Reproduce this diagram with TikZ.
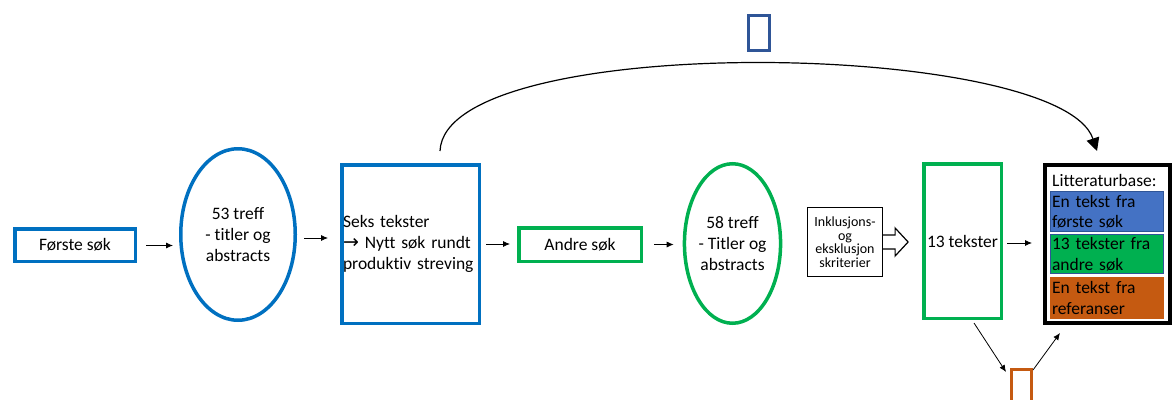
\documentclass[tikz,border=0pt]{standalone}
\usepackage{fontspec}
\setmainfont{Carlito}[Ligatures=NoCommon]
\newfontfamily\arrowfont{DejaVu Sans}
\usetikzlibrary{arrows.meta,shapes.geometric}
\definecolor{firstblue}{HTML}{0070C0}
\definecolor{secondgreen}{HTML}{00B050}
\definecolor{darkblue}{HTML}{2F5597}
\definecolor{midblue}{HTML}{4472C4}
\definecolor{rust}{HTML}{C55A11}
\tikzset{
  txt/.style={font=\fontsize{17.5}{21}\selectfont},
  bluebox/.style={draw=firstblue, line width=3.5pt, inner sep=2pt, txt},
  greenbox/.style={draw=secondgreen, line width=3.5pt, inner sep=2pt, txt},
  blueoval/.style={ellipse, draw=firstblue, line width=3.5pt, inner sep=0pt, align=center, txt},
  greenoval/.style={ellipse, draw=secondgreen, line width=3.5pt, inner sep=0pt, align=center, txt},
  arr/.style={-{Latex[length=7pt,width=6pt]}, line width=0.8pt},
  glyphbox/.style={draw, line width=3pt, inner sep=0pt},
  baseitem/.style={minimum width=113pt, text width=110pt, inner sep=1.5pt, align=left,
    font=\fontsize{17.5}{20.5}\selectfont, anchor=center},
}
\begin{document}
\begin{tikzpicture}[x=1pt,y=-1pt]
\useasboundingbox (0,0) rectangle (1174,399);
\clip (0,0) rectangle (1174,399);

% first search chain
\node[bluebox, minimum width=120.5pt, minimum height=32.5pt] (forste) at (75,245) {Første søk};
\node[blueoval, minimum width=114.5pt, minimum height=171.5pt] (treff53) at (238,234.5)
  {53 treff\\- titler og\\abstracts};
\node[bluebox, minimum width=137.5pt, minimum height=158.5pt, text width=135pt, inner sep=1pt, align=left]
  (seks) at (410.5,244)
  {Seks tekster\\{\arrowfont\fontsize{19}{21}\selectfont →} Nytt søk rundt\\produktiv streving};

% second search chain
\node[greenbox, minimum width=122.5pt, minimum height=33.5pt] (andre) at (580,244.5) {Andre søk};
\node[greenoval, minimum width=87.5pt, minimum height=159.5pt] (treff58) at (732.5,243.5)
  {58 treff\\- Titler og\\abstracts};
\node[draw, line width=1.2pt, minimum width=75pt, minimum height=69pt, inner sep=1pt,
  align=center, font=\fontsize{14}{13.5}\selectfont] (inkl) at (845,242)
  {Inklusjons-\\og\\eksklusjon\\skriterier};
\node[greenbox, minimum width=77.5pt, minimum height=154.5pt] (tekster13) at (962.5,241) {13 tekster};

% literature base
\node[draw, line width=4pt, minimum width=125pt, minimum height=158pt, inner sep=0pt]
  (litt) at (1107.5,244) {};
\node[anchor=west, inner sep=0pt, font=\fontsize{17.5}{20.5}\selectfont] (littlabel) at (1052,180)
  {Litteraturbase:};
\node[baseitem, fill=midblue, draw=darkblue, line width=1pt, minimum height=40pt] (b1) at (1107,211.5)
  {En tekst fra\\første søk};
\node[baseitem, fill=secondgreen, draw=darkblue, line width=1pt, minimum height=39pt] (b2) at (1107,254)
  {13 tekster fra\\andre søk};
\node[baseitem, fill=rust, draw=rust, line width=0.6pt, minimum height=41pt] (b3) at (1107,298)
  {En tekst fra\\referanser};

% placeholder glyph boxes
\node[glyphbox, draw=darkblue, minimum width=21pt, minimum height=35pt] (glyphtop) at (759,33) {};
\node[glyphbox, draw=rust, minimum width=20pt, minimum height=39pt] (glyphbottom) at (1021.5,389) {};

% connectors
\draw[arr, shorten <=9pt, shorten >=6pt] ([yshift=-0.5pt]forste.east) -- ([yshift=-0.5pt]forste.east -| treff53.west);
\draw[arr, shorten <=7pt, shorten >=12pt] ([yshift=-3.5pt]treff53.east) -- ([yshift=-3.5pt]treff53.east -| seks.west);
\draw[arr, shorten <=5pt, shorten >=7pt] (seks.east) -- (seks.east -| andre.west);
\draw[arr, shorten <=11pt, shorten >=9pt] (andre.east) -- (andre.east -| treff58.west);
\draw[arr, shorten <=4pt, shorten >=11pt] ([yshift=-2pt]tekster13.east) -- ([yshift=-2pt]tekster13.east -| litt.west);

% hollow block arrow from the criteria box
\draw[line width=1.2pt, fill=white, line join=miter]
  ([yshift=7pt]inkl.east) -- ++(12,0) -- ++(0,-7) -- ++(13,14) -- ++(-13,14) -- ++(0,-7) -- ([yshift=-7pt]inkl.east);

% curved feedback arrow
\coordinate (cstart) at ([xshift=29.5pt,yshift=12pt]seks.north);
\coordinate (cend) at ([xshift=-10.5pt,yshift=12pt]litt.north);
\draw[-{Triangle[length=13pt,width=13pt]}, line width=1.2pt]
  (cstart) .. controls (445,30) and (1060,40) .. (cend);

% arrows through the bottom glyph box
\draw[arr] ([xshift=11.5pt,yshift=-3pt]tekster13.south) -- ([xshift=-4pt,yshift=-4pt]glyphbottom.north west);
\draw[arr] ([xshift=0pt,yshift=-2pt]glyphbottom.north east) -- ([xshift=17pt,yshift=-8pt]litt.south west);
\end{tikzpicture}
\end{document}
